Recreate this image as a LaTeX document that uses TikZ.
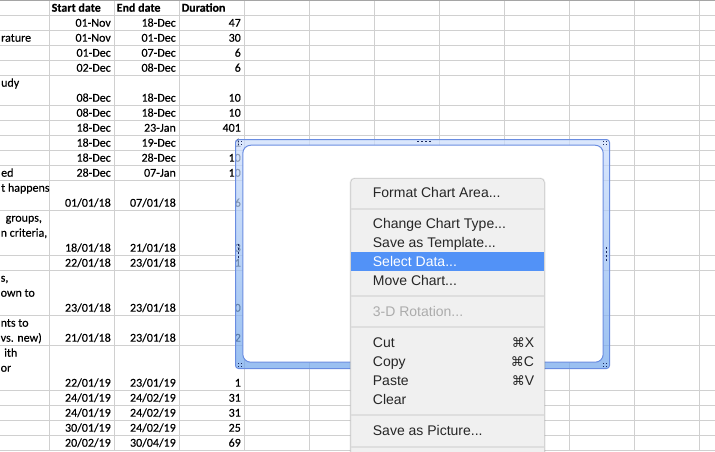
\documentclass[tikz,border=0pt]{standalone}
\usepackage{fontspec}
\setmainfont{Carlito}[FakeBold=0.3]
\newfontfamily\menufont{Liberation Sans}
\newfontfamily\keyfont{DejaVu Sans}
\usetikzlibrary{positioning}
\definecolor{gridline}{RGB}{208,208,208}
\definecolor{topline}{RGB}{165,165,165}
\definecolor{frametop}{RGB}{205,222,252}
\definecolor{framemid}{RGB}{180,205,246}
\definecolor{framebottom}{RGB}{115,168,236}
\definecolor{frameedge}{RGB}{105,140,225}
\definecolor{handle}{RGB}{25,40,95}
\definecolor{menubg}{RGB}{240,240,240}
\definecolor{menuedge}{RGB}{200,200,200}
\definecolor{menusep}{RGB}{222,222,222}
\definecolor{menuhl}{RGB}{82,146,247}
\definecolor{menutext}{RGB}{38,38,38}
\definecolor{menuoff}{RGB}{172,172,172}
\tikzset{
  cell/.style={inner sep=0pt, anchor=base east, font=\fontsize{12}{15}\selectfont},
  txtcell/.style={inner sep=0pt, anchor=base west, font=\fontsize{12}{15}\selectfont},
  head/.style={txtcell, font=\fontsize{12}{15}\selectfont\bfseries},
  item/.style={inner sep=0pt, anchor=base west, text=menutext, font=\menufont\fontsize{14}{17}\selectfont},
  key/.style={inner sep=0pt, anchor=base east, text=menutext, font=\menufont\fontsize{14}{17}\selectfont},
  sep/.style={menusep, line width=2pt},
}
\newcommand{\cmd}{{\keyfont\fontsize{13}{15}\selectfont\char"2318}}
\begin{document}
\begin{tikzpicture}[x=1pt,y=-1pt]
\useasboundingbox (0,0) rectangle (715,451);
\fill[white] (0,0) rectangle (715,451);
% grid
\foreach \gx in {49,114,...,699} \draw[gridline, line width=1pt] (\gx,0) -- (\gx,451);
\foreach \gy in {15,30,45,60,75,105,120,135,150,165,180,210,255,270,315,345,390,405,420,435,450}
  \draw[gridline, line width=1pt] (0,\gy) -- (715,\gy);
\draw[topline, line width=1pt] (0,0.5) -- (715,0.5);
% header
\node[head] (hstart) at (51.5,11.7) {Start date};
\node[head] (hend) at (116.5,11.7) {End date};
\node[head] (hdur) at (181.5,11.7) {Duration};
% dates and durations
\foreach \by/\s/\e/\d [count=\r] in {26.7/01-Nov/18-Dec/47, 41.7/01-Nov/01-Dec/30, 56.7/01-Dec/07-Dec/6,
  71.7/02-Dec/08-Dec/6, 101.7/08-Dec/18-Dec/10, 116.7/08-Dec/18-Dec/10, 131.7/18-Dec/23-Jan/401,
  146.7/18-Dec/19-Dec/1, 161.7/18-Dec/28-Dec/10, 176.7/28-Dec/07-Jan/10,
  206.7/{01/01/18}/{07/01/18}/6, 251.7/{18/01/18}/{21/01/18}/3, 266.7/{22/01/18}/{23/01/18}/1,
  311.7/{23/01/18}/{23/01/18}/0, 341.7/{21/01/18}/{23/01/18}/2, 386.7/{22/01/19}/{23/01/19}/1,
  401.7/{24/01/19}/{24/02/19}/31, 416.7/{24/01/19}/{24/02/19}/31, 431.7/{30/01/19}/{24/02/19}/25,
  446.7/{20/02/19}/{30/04/19}/69}{
  \node[cell] (start\r) at (111,\by) {\s};
  \node[cell] (end\r) at (176,\by) {\e};
  \node[cell] (dur\r) at (241,\by) {\d};
}
% cut off task names
\node[txtcell] (t1) at (1,41.7) {rature};
\node[txtcell] (t2) at (1,86.7) {udy};
\node[txtcell] (t3) at (1,176.7) {ed};
\node[txtcell] (t4) at (1,191.7) {t happens};
\node[txtcell] (t5) at (5.5,221.7) {groups,};
\node[txtcell] (t6) at (0.5,236.7) {n criteria,};
\node[txtcell] (t7) at (0.5,281.7) {s,};
\node[txtcell] (t8) at (0.5,296.7) {own to};
\node[txtcell] (t9) at (0.5,326.7) {nts to};
\node[txtcell] (t10) at (0.5,341.7) {vs. new)};
\node[txtcell] (t11) at (4,356.7) {ith};
\node[txtcell] (t12) at (0.5,371.7) {or};
% chart frame
\shade[top color=frametop, middle color=framemid, bottom color=framebottom, fill opacity=0.72, rounded corners=3pt]
  (235.5,139.5) rectangle (609.5,368.5);
\draw[frameedge, line width=1pt, rounded corners=3pt] (235.5,139.5) rectangle (609.5,368.5);
\draw[fill=white, draw=frameedge, line width=1pt, rounded corners=8pt] (242.8,145.2) rectangle (603.2,362.2);
% handles
\foreach \hx/\hy in {238.5/141.5,241.5/141.5,238.5/144.5,241.5/144.5,
  603.5/141.5,606.5/141.5,603.5/144.5,606.5/144.5,
  238.5/363.5,241.5/363.5,238.5/366.5,241.5/366.5,
  603.5/363.5,606.5/363.5,603.5/366.5,606.5/366.5,
  418/141.5,422/141.5,426/141.5,430/141.5,
  238.5/245,238.5/249,238.5/253,238.5/257,
  606.5/248,606.5/252,606.5/256,606.5/260}
  \fill[handle] (\hx-0.7,\hy-0.7) rectangle ++(1.4,1.4);
% context menu
\fill[black, opacity=0.08, rounded corners=5pt] (349.5,177.5) rectangle (545.5,470);
\draw[fill=menubg, draw=menuedge, line width=0.6pt, rounded corners=4pt] (350.7,178.3) rectangle (544.3,470);
\fill[menuhl] (351,252) rectangle (544,270.7);
\draw[sep] (351,208.7) -- (544,208.7);
\draw[sep] (351,295.7) -- (544,295.7);
\draw[sep] (351,326.7) -- (544,326.7);
\draw[sep] (351,415) -- (544,415);
\draw[sep] (351,446.7) -- (544,446.7);
\node[item] (fmt) at (372.7,197.3) {Format Chart Area...};
\node[item] (chtype) at (372.7,228.3) {Change Chart Type...};
\node[item] (tmpl) at (372.7,247.3) {Save as Template...};
\node[item, text=white] (seldata) at (372.7,266.3) {Select Data...};
\node[item] (move) at (372.7,285.3) {Move Chart...};
\node[item, text=menuoff] (rot) at (372.7,316.5) {3-D Rotation...};
\node[item] (cut) at (372.7,347.3) {Cut};
\node[item] (copy) at (372.7,366.3) {Copy};
\node[item] (paste) at (372.7,385.3) {Paste};
\node[item] (clear) at (372.7,404.3) {Clear};
\node[item] (pic) at (372.7,435.3) {Save as Picture...};
\node[key] (kcut) at (534.3,347.3) {\cmd X};
\node[key] (kcopy) at (534.3,366.3) {\cmd C};
\node[key] (kpaste) at (534.3,385.3) {\cmd V};
\end{tikzpicture}
\end{document}
